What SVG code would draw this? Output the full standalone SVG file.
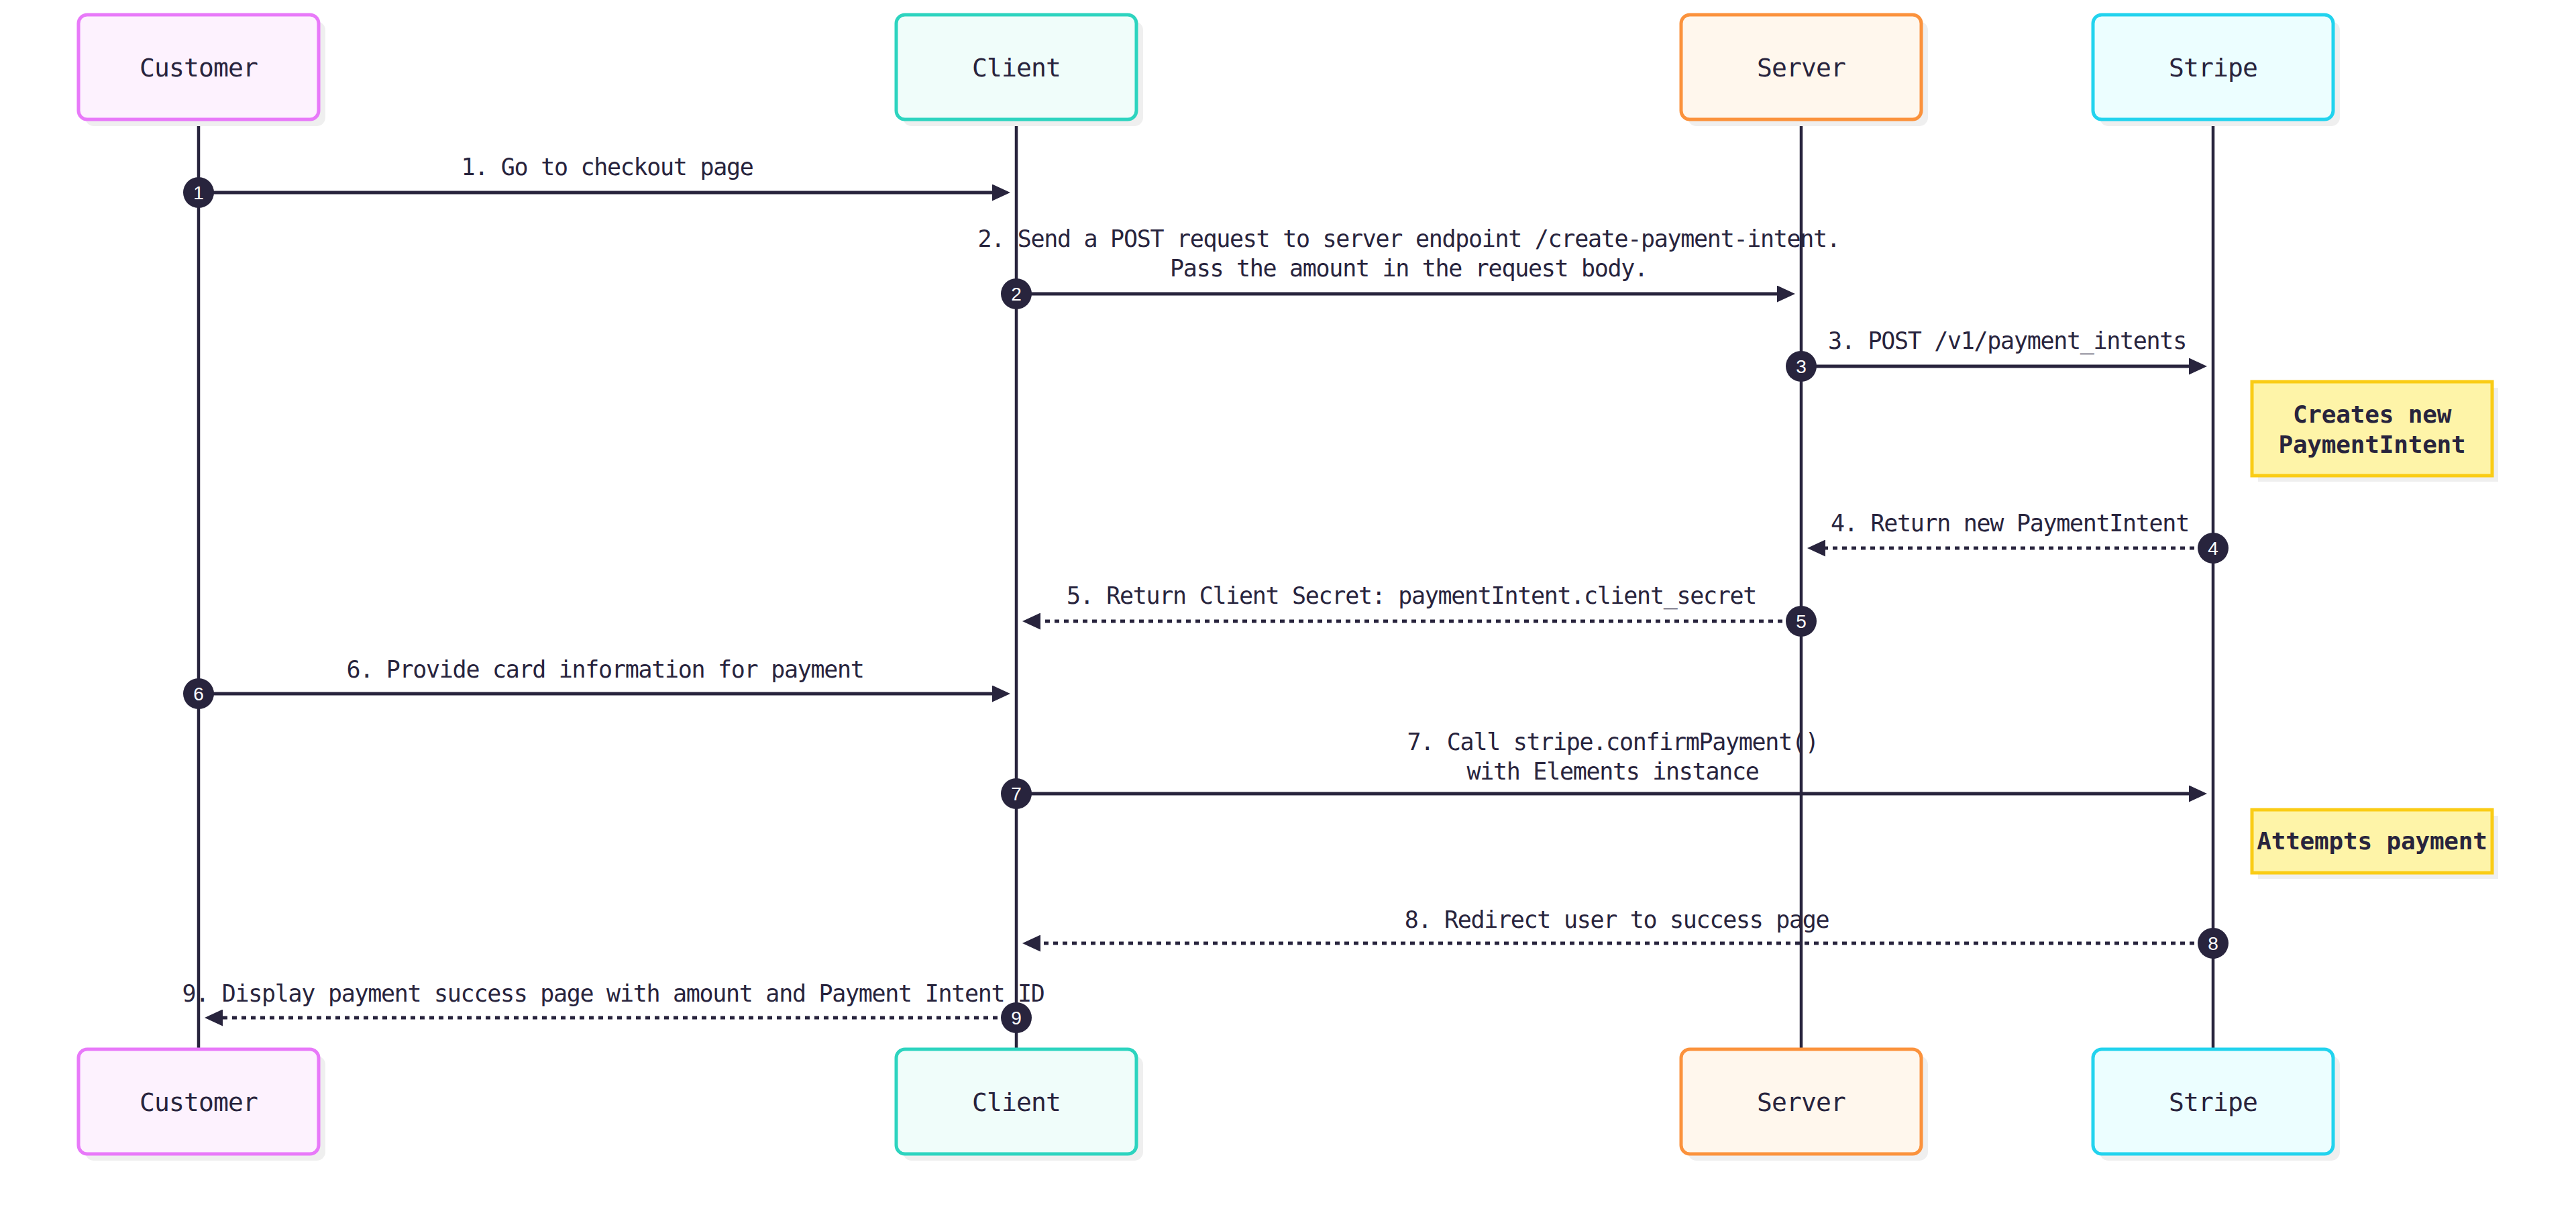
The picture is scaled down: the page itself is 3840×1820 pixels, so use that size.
<svg xmlns="http://www.w3.org/2000/svg" width="3840" height="1820" viewBox="0 0 3840 1820">
<style>
.box{stroke-width:5}
.shadow{fill:#efefef}
.ptxt{font-family:"DejaVu Sans Mono","Liberation Mono",monospace;font-size:38px;letter-spacing:-0.9px;fill:#28243d;text-anchor:middle}
.ntxt{font-family:"DejaVu Sans Mono","Liberation Mono",monospace;font-size:36px;letter-spacing:-0.2px;font-weight:bold;fill:#28243d;text-anchor:middle}
.ltxt{font-family:"DejaVu Sans Mono","Liberation Mono",monospace;font-size:35px;letter-spacing:-1.3px;fill:#28243d;text-anchor:middle}
.life{stroke:#28243d;stroke-width:4.5}
.msg{stroke:#28243d;stroke-width:5;fill:none;marker-end:url(#ah)}
.dot{stroke-dasharray:7 7}
.num{fill:#28243d}
.ntx{font-family:"Liberation Sans",Arial,sans-serif;font-size:28px;fill:#ffffff;text-anchor:middle}
.note{fill:#fef4a8;stroke:#facc15;stroke-width:5}
</style>
<defs>
<marker id="ah" viewBox="0 0 27 25" refX="7" refY="12.5" markerWidth="27" markerHeight="25" markerUnits="userSpaceOnUse" orient="auto">
<path d="M0,0 L27,12.5 L0,25 z" fill="#28243d"/>
</marker>
</defs>
<rect width="3840" height="1820" fill="#ffffff"/>

<g id="lifelines">
<line class="life" x1="296" y1="178" x2="296" y2="1566"/>
<line class="life" x1="1515" y1="178" x2="1515" y2="1566"/>
<line class="life" x1="2685" y1="178" x2="2685" y2="1566"/>
<line class="life" x1="3299" y1="178" x2="3299" y2="1566"/>
</g>

<g id="customer">
<rect class="shadow" x="127" y="32" width="358" height="156" rx="13"/>
<rect class="box" x="117" y="22" width="358" height="156" rx="13" fill="#fdf2fe" stroke="#e879f9"/>
<text class="ptxt" x="296" y="114">Customer</text>
<rect class="shadow" x="127" y="1574" width="358" height="156" rx="13"/>
<rect class="box" x="117" y="1564" width="358" height="156" rx="13" fill="#fdf2fe" stroke="#e879f9"/>
<text class="ptxt" x="296" y="1656">Customer</text>
</g>

<g id="client">
<rect class="shadow" x="1346" y="32" width="358" height="156" rx="13"/>
<rect class="box" x="1336" y="22" width="358" height="156" rx="13" fill="#f0fdfa" stroke="#2dd4bf"/>
<text class="ptxt" x="1515" y="114">Client</text>
<rect class="shadow" x="1346" y="1574" width="358" height="156" rx="13"/>
<rect class="box" x="1336" y="1564" width="358" height="156" rx="13" fill="#f0fdfa" stroke="#2dd4bf"/>
<text class="ptxt" x="1515" y="1656">Client</text>
</g>

<g id="server">
<rect class="shadow" x="2516" y="32" width="358" height="156" rx="13"/>
<rect class="box" x="2506" y="22" width="358" height="156" rx="13" fill="#fff7ed" stroke="#fb923c"/>
<text class="ptxt" x="2685" y="114">Server</text>
<rect class="shadow" x="2516" y="1574" width="358" height="156" rx="13"/>
<rect class="box" x="2506" y="1564" width="358" height="156" rx="13" fill="#fff7ed" stroke="#fb923c"/>
<text class="ptxt" x="2685" y="1656">Server</text>
</g>

<g id="stripe">
<rect class="shadow" x="3130" y="32" width="358" height="156" rx="13"/>
<rect class="box" x="3120" y="22" width="358" height="156" rx="13" fill="#ecfeff" stroke="#22d3ee"/>
<text class="ptxt" x="3299" y="114">Stripe</text>
<rect class="shadow" x="3130" y="1574" width="358" height="156" rx="13"/>
<rect class="box" x="3120" y="1564" width="358" height="156" rx="13" fill="#ecfeff" stroke="#22d3ee"/>
<text class="ptxt" x="3299" y="1656">Stripe</text>
</g>

<g id="note-creates">
<rect class="shadow" x="3366" y="578" width="358" height="140"/>
<rect class="note" x="3357" y="569" width="358" height="140"/>
<text class="ntxt" x="3536" y="630">Creates new</text>
<text class="ntxt" x="3536" y="675">PaymentIntent</text>
</g>

<g id="note-attempts">
<rect class="shadow" x="3366" y="1216" width="358" height="94"/>
<rect class="note" x="3357" y="1207" width="358" height="94"/>
<text class="ntxt" x="3536" y="1266">Attempts payment</text>
</g>

<g id="connectors">
<line class="msg" x1="296" y1="287" x2="1486" y2="287"/>
<line class="msg" x1="1515" y1="438" x2="2656" y2="438"/>
<line class="msg" x1="2685" y1="546" x2="3270" y2="546"/>
<line class="msg dot" x1="3299" y1="817" x2="2714" y2="817"/>
<line class="msg dot" x1="2685" y1="926" x2="1544" y2="926"/>
<line class="msg" x1="296" y1="1034" x2="1486" y2="1034"/>
<line class="msg" x1="1515" y1="1183" x2="3270" y2="1183"/>
<line class="msg dot" x1="3299" y1="1406" x2="1544" y2="1406"/>
<line class="msg dot" x1="1515" y1="1517" x2="325" y2="1517"/>
</g>

<g id="labels">
<text class="ltxt" x="905" y="261">1. Go to checkout page</text>
<text class="ltxt" x="2100" y="368">2. Send a POST request to server endpoint /create-payment-intent.</text>
<text class="ltxt" x="2100" y="412">Pass the amount in the request body.</text>
<text class="ltxt" x="2992" y="520">3. POST /v1/payment_intents</text>
<text class="ltxt" x="2996" y="792">4. Return new PaymentIntent</text>
<text class="ltxt" x="2104" y="900">5. Return Client Secret: paymentIntent.client_secret</text>
<text class="ltxt" x="902" y="1010">6. Provide card information for payment</text>
<text class="ltxt" x="2404" y="1118">7. Call stripe.confirmPayment()</text>
<text class="ltxt" x="2404" y="1162">with Elements instance</text>
<text class="ltxt" x="2410" y="1383">8. Redirect user to success page</text>
<text class="ltxt" x="914" y="1493">9. Display payment success page with amount and Payment Intent ID</text>
</g>

<g id="sequence-numbers">
<circle class="num" cx="296" cy="287" r="23"/><text class="ntx" x="296" y="297">1</text>
<circle class="num" cx="1515" cy="438" r="23"/><text class="ntx" x="1515" y="448">2</text>
<circle class="num" cx="2685" cy="546" r="23"/><text class="ntx" x="2685" y="556">3</text>
<circle class="num" cx="3299" cy="817" r="23"/><text class="ntx" x="3299" y="827">4</text>
<circle class="num" cx="2685" cy="926" r="23"/><text class="ntx" x="2685" y="936">5</text>
<circle class="num" cx="296" cy="1034" r="23"/><text class="ntx" x="296" y="1044">6</text>
<circle class="num" cx="1515" cy="1183" r="23"/><text class="ntx" x="1515" y="1193">7</text>
<circle class="num" cx="3299" cy="1406" r="23"/><text class="ntx" x="3299" y="1416">8</text>
<circle class="num" cx="1515" cy="1517" r="23"/><text class="ntx" x="1515" y="1527">9</text>
</g>
</svg>
